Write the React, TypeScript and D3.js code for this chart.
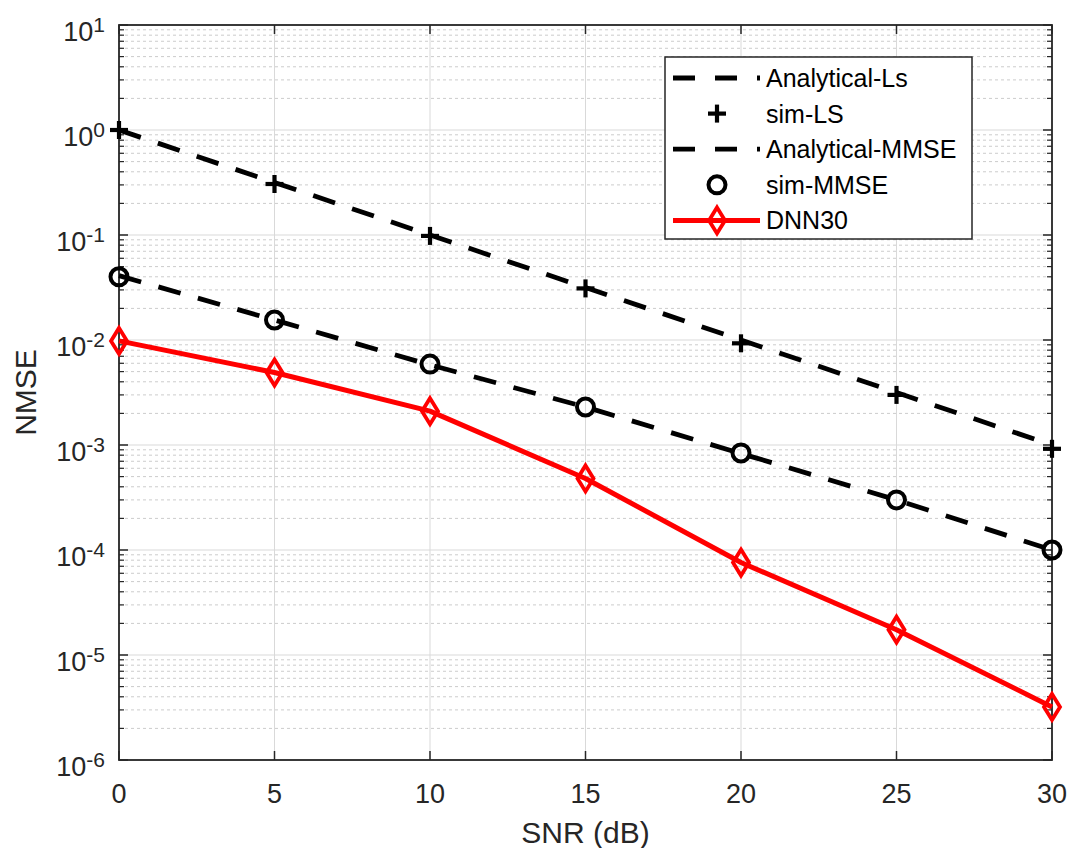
import React from 'react';
import * as d3 from 'd3';

// SNR sweep (dB) and NMSE curves.
const snrDb = [0, 5, 10, 15, 20, 25, 30];
const analyticalLs = [1, 0.316, 0.1, 0.0316, 0.01, 0.00316, 0.001];
const simLs = [1, 0.306, 0.098, 0.031, 0.0093, 0.003, 0.00092];
const analyticalMmse = [0.041, 0.0155, 0.0058, 0.0023, 0.00083, 0.0003, 0.0001];
const simMmse = [0.04, 0.0155, 0.0059, 0.0023, 0.00084, 0.0003, 0.0001];
const dnn30 = [0.0098, 0.0049, 0.0021, 0.00048, 0.000076, 0.0000174, 0.0000032];

const xTicks = [0, 5, 10, 15, 20, 25, 30];
const yExponents = [1, 0, -1, -2, -3, -4, -5, -6];
const legendLabels = ['Analytical-Ls', 'sim-LS', 'Analytical-MMSE', 'sim-MMSE', 'DNN30'];

const W = 1072;
const H = 848;
const M = { left: 119, right: 1052, top: 25, bottom: 760 };
const INK = '#262626';
const FONT = '"Liberation Sans", Arial, Helvetica, sans-serif';

function Plus({ x, y }: { x: number; y: number }) {
  const s = 9;
  return (
    <g stroke="#000" strokeWidth={4.2}>
      <line x1={x - s} x2={x + s} y1={y} y2={y} />
      <line x1={x} x2={x} y1={y - s} y2={y + s} />
    </g>
  );
}

function Ring({ x, y }: { x: number; y: number }) {
  return <circle cx={x} cy={y} r={8.5} fill="none" stroke="#000" strokeWidth={4} />;
}

function Diamond({ x, y }: { x: number; y: number }) {
  const hw = 8;
  const hh = 13;
  return (
    <path
      d={`M${x},${y - hh}L${x + hw},${y}L${x},${y + hh}L${x - hw},${y}Z`}
      fill="none"
      stroke="#ff0000"
      strokeWidth={3.8}
      strokeLinejoin="miter"
    />
  );
}

export default function App() {
  const x = d3.scaleLinear().domain([0, 30]).range([M.left, M.right]);
  const y = d3.scaleLog().domain([1e-6, 10]).range([M.bottom, M.top]);

  const line = d3
    .line<number>()
    .x((_, i) => x(snrDb[i]))
    .y((v) => y(v));

  const minor: number[] = [];
  for (let e = -6; e < 1; e++) {
    for (let k = 2; k <= 9; k++) minor.push(k * Math.pow(10, e));
  }

  const lg = { x0: 665, x1: 972, y0: 57, y1: 239 };
  const rowY = (i: number) => 78 + i * 35.6;
  const sx0 = 673;
  const sx1 = 760;
  const mx = 717;
  const tx = 766;

  return (
    <svg
      width={W}
      height={H}
      style={{ position: 'absolute', left: 0, top: 0, background: '#fff' }}
      fontFamily={FONT}
    >
      <rect x={0} y={0} width={W} height={H} fill="#fff" />

      {/* minor grid */}
      {minor.map((v) => (
        <line
          key={`mg${v}`}
          x1={M.left}
          x2={M.right}
          y1={y(v)}
          y2={y(v)}
          stroke="#cccccc"
          strokeWidth={1}
          strokeDasharray="3 3"
        />
      ))}
      {/* major grid */}
      {yExponents.map((e) => (
        <line
          key={`yg${e}`}
          x1={M.left}
          x2={M.right}
          y1={y(Math.pow(10, e))}
          y2={y(Math.pow(10, e))}
          stroke="#d9d9d9"
          strokeWidth={1}
        />
      ))}
      {xTicks.map((t) => (
        <line
          key={`xg${t}`}
          x1={x(t)}
          x2={x(t)}
          y1={M.top}
          y2={M.bottom}
          stroke="#d9d9d9"
          strokeWidth={1}
        />
      ))}

      {/* ticks (inward, both sides) */}
      {xTicks.map((t) => (
        <g key={`xt${t}`} stroke={INK} strokeWidth={1.5}>
          <line x1={x(t)} x2={x(t)} y1={M.bottom} y2={M.bottom - 9} />
          <line x1={x(t)} x2={x(t)} y1={M.top} y2={M.top + 9} />
        </g>
      ))}
      {yExponents.map((e) => (
        <g key={`yt${e}`} stroke={INK} strokeWidth={1.5}>
          <line x1={M.left} x2={M.left + 9} y1={y(Math.pow(10, e))} y2={y(Math.pow(10, e))} />
          <line x1={M.right} x2={M.right - 9} y1={y(Math.pow(10, e))} y2={y(Math.pow(10, e))} />
        </g>
      ))}
      {minor.map((v) => (
        <g key={`ymt${v}`} stroke={INK} strokeWidth={1.2}>
          <line x1={M.left} x2={M.left + 5} y1={y(v)} y2={y(v)} />
          <line x1={M.right} x2={M.right - 5} y1={y(v)} y2={y(v)} />
        </g>
      ))}

      {/* axes box */}
      <rect
        x={M.left}
        y={M.top}
        width={M.right - M.left}
        height={M.bottom - M.top}
        fill="none"
        stroke={INK}
        strokeWidth={1.8}
      />

      {/* tick labels */}
      {xTicks.map((t) => (
        <text key={`xl${t}`} x={x(t)} y={803} textAnchor="middle" fontSize={27} fill={INK}>
          {t}
        </text>
      ))}
      {yExponents.map((e) => (
        <text
          key={`yl${e}`}
          x={105}
          y={y(Math.pow(10, e)) + 16}
          textAnchor="end"
          fontSize={27}
          fill={INK}
        >
          10
          <tspan fontSize={21} dy={-9}>
            {e}
          </tspan>
        </text>
      ))}

      {/* axis labels */}
      <text x={(M.left + M.right) / 2} y={843} textAnchor="middle" fontSize={30} fill={INK}>
        SNR (dB)
      </text>
      <text
        transform={`translate(36,${(M.top + M.bottom) / 2}) rotate(-90)`}
        textAnchor="middle"
        fontSize={30}
        fill={INK}
      >
        NMSE
      </text>

      {/* series */}
      <path d={line(analyticalLs) ?? ''} fill="none" stroke="#000" strokeWidth={4.8} strokeDasharray="23 18" />
      <path d={line(analyticalMmse) ?? ''} fill="none" stroke="#000" strokeWidth={4.8} strokeDasharray="23 18" />
      <path d={line(dnn30) ?? ''} fill="none" stroke="#ff0000" strokeWidth={5} strokeLinejoin="round" />
      {simLs.map((v, i) => (
        <Plus key={`p${i}`} x={x(snrDb[i])} y={y(v)} />
      ))}
      {simMmse.map((v, i) => (
        <Ring key={`r${i}`} x={x(snrDb[i])} y={y(v)} />
      ))}
      {dnn30.map((v, i) => (
        <Diamond key={`d${i}`} x={x(snrDb[i])} y={y(v)} />
      ))}

      {/* legend */}
      <rect
        x={lg.x0}
        y={lg.y0}
        width={lg.x1 - lg.x0}
        height={lg.y1 - lg.y0}
        fill="#fff"
        stroke={INK}
        strokeWidth={1.5}
      />
      <line x1={sx0} x2={sx1} y1={rowY(0)} y2={rowY(0)} stroke="#000" strokeWidth={4.8} strokeDasharray="22 20" />
      <Plus x={mx} y={rowY(1)} />
      <line x1={sx0} x2={sx1} y1={rowY(2)} y2={rowY(2)} stroke="#000" strokeWidth={4.8} strokeDasharray="22 20" />
      <Ring x={mx} y={rowY(3)} />
      <line x1={sx0} x2={sx1} y1={rowY(4)} y2={rowY(4)} stroke="#ff0000" strokeWidth={5} />
      <Diamond x={mx} y={rowY(4)} />
      {legendLabels.map((lab, i) => (
        <text key={lab} x={tx} y={rowY(i) + 9} fontSize={25} fill="#000">
          {lab}
        </text>
      ))}
    </svg>
  );
}
